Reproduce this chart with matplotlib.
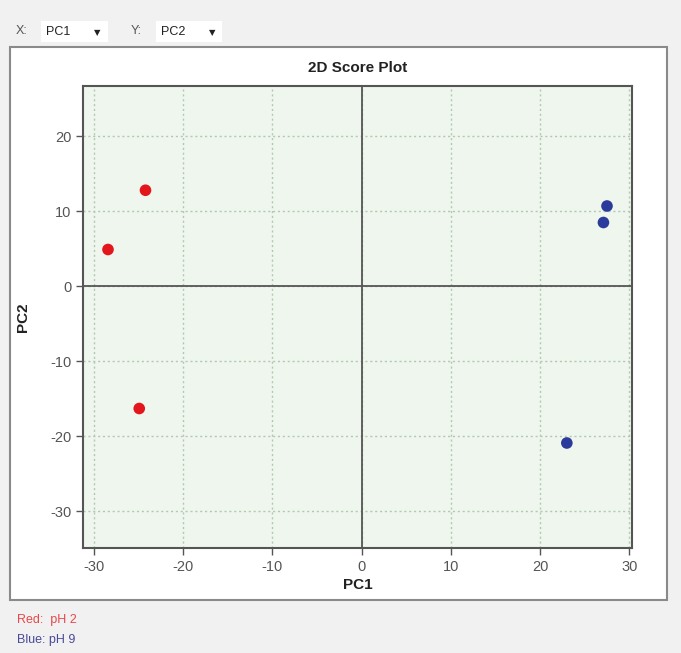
import matplotlib
matplotlib.use("Agg")
import matplotlib.pyplot as plt
from matplotlib.patches import Rectangle

# score values
red_pc1 = [-24.2, -28.4, -24.9]
red_pc2 = [12.8, 4.9, -16.3]
blue_pc1 = [27.5, 27.1, 23.0]
blue_pc2 = [10.7, 8.5, -20.9]
x_ticks = [-30, -20, -10, 0, 10, 20, 30]
y_ticks = [-30, -20, -10, 0, 10, 20]

W, H = 681, 653
plt.rcParams['font.family'] = ['Liberation Sans', 'DejaVu Sans']
plt.rcParams['axes.unicode_minus'] = False

fig = plt.figure(figsize=(W / 100, H / 100), dpi=100)
fig.patch.set_facecolor('#f1f1f1')


def box(x0, y0, x1, y1, **kw):
    # rectangle given in picture pixels (top-left origin)
    r = Rectangle((x0 / W, 1 - y1 / H), (x1 - x0) / W, (y1 - y0) / H,
                  transform=fig.transFigure, zorder=-5, **kw)
    fig.patches.append(r)


def label(x, y, s, **kw):
    fig.text(x / W, 1 - y / H, s, **kw)


# white panel holding the chart
box(10, 47, 667, 600, facecolor='white', edgecolor='#8a8a8a', linewidth=1.5)

# selectors on top
label(16, 31, 'X:', fontsize=9, color='#555555', va='center')
box(41, 21, 108, 42, facecolor='white', edgecolor='none')
label(46, 32, 'PC1', fontsize=9, color='#222222', va='center')
label(97, 33, '\u25bc', fontsize=6, color='#222222', va='center', ha='center',
      family='DejaVu Sans')
label(131, 31, 'Y:', fontsize=9, color='#555555', va='center')
box(156, 21, 222, 42, facecolor='white', edgecolor='none')
label(161, 32, 'PC2', fontsize=9, color='#222222', va='center')
label(212, 33, '\u25bc', fontsize=6, color='#222222', va='center', ha='center',
      family='DejaVu Sans')

# legend notes below the panel
label(17, 620, 'Red:  pH 2', fontsize=9, color='#e8474c', va='center')
label(17, 640, 'Blue: pH 9', fontsize=9, color='#4a4a9a', va='center')

ax = fig.add_axes([83 / W, 1 - 548 / H, (632 - 83) / W, (548 - 86) / H])
ax.set_facecolor('#eef6ee')

ax.axhline(0, color='#555555', linewidth=1.3, zorder=2)
ax.axvline(0, color='#555555', linewidth=1.3, zorder=2)

ax.scatter(red_pc1, red_pc2, s=70, color='#e3161c', zorder=3, edgecolors='none')
ax.scatter(blue_pc1, blue_pc2, s=70, color='#2b3b9c', zorder=3, edgecolors='none')

ax.set_xlim(-31.2, 30.3)
ax.set_ylim(-34.9, 26.7)
ax.set_xticks(x_ticks)
ax.set_yticks(y_ticks)
ax.grid(True, color='#b4c8b0', linestyle=(0, (1.5, 2)), linewidth=1.0, zorder=1)
ax.set_axisbelow(True)

for sp in ax.spines.values():
    sp.set_color('#555555')
    sp.set_linewidth(1.5)
ax.tick_params(direction='out', length=5, width=1, color='#555555',
               labelcolor='#555555', labelsize=10.5)

ax.set_title('2D Score Plot', fontsize=11, fontweight='bold', color='#222222', pad=10)
ax.set_xlabel('PC1', fontsize=11, fontweight='bold', color='#222222', labelpad=3)
ax.set_ylabel('PC2', fontsize=11, fontweight='bold', color='#222222', labelpad=14)

fig.savefig('out.png', dpi=100, facecolor=fig.get_facecolor())
